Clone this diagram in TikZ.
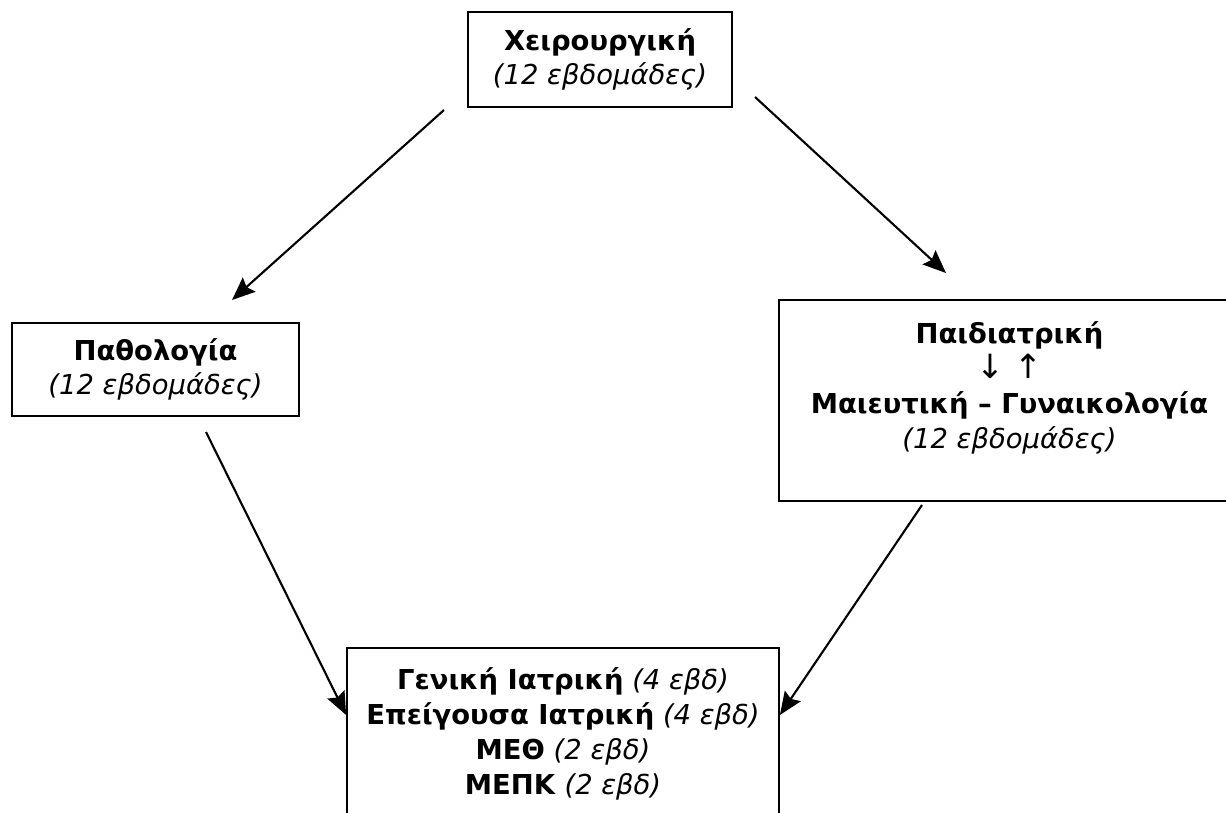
\documentclass[tikz,border=0pt]{standalone}
\usepackage{fontspec}
\setmainfont{DejaVu Sans}
\usepackage{tikz}
\usetikzlibrary{arrows.meta, positioning, calc}

\begin{document}
\begin{tikzpicture}[
  x=1cm, y=1cm,
  blk/.style={draw, line width=1pt, align=center, font=\fontsize{15.6}{19.8}\selectfont, inner sep=1mm},
  arr/.style={-{Stealth[length=0.46cm, width=0.38cm, inset=0.07cm]}, line width=1.2pt}
]
\useasboundingbox (0,0) rectangle (24.52,-16.24);

\node[blk, minimum width=5.28cm, minimum height=1.9cm] (chir) at (12.0,-1.19) {\textbf{Χειρουργική}\\ \textit{(12 εβδομάδες)}};
\node[blk, minimum width=5.74cm, minimum height=1.86cm] (path) at (3.11,-7.39) {\textbf{Παθολογία}\\ \textit{(12 εβδομάδες)}};
\node[blk, minimum width=9.22cm, minimum height=4.02cm, text depth=0.62cm] (paid) at (20.19,-8.01) {\textbf{Παιδιατρική}\\ {\fontsize{19}{19.8}\selectfont ↓ ↑}\\ \textbf{Μαιευτική – Γυναικολογία}\\ \textit{(12 εβδομάδες)}};
\node[blk, minimum width=8.64cm, minimum height=3.44cm] (gen) at (11.26,-14.68) {\textbf{Γενική Ιατρική} \textit{(4 εβδ)}\\ \textbf{Επείγουσα Ιατρική} \textit{(4 εβδ)}\\ \textbf{ΜΕΘ} \textit{(2 εβδ)}\\ \textbf{ΜΕΠΚ} \textit{(2 εβδ)}};

% free ends of the connectors
\coordinate (c1) at (8.88,-2.20);
\coordinate (c2) at (4.64,-6.00);
\coordinate (c3) at (15.10,-1.94);
\coordinate (c4) at (18.92,-5.46);
\coordinate (c5) at (4.12,-8.64);
\coordinate (c6) at (18.44,-10.10);

\draw[arr] (c1) -- (c2);
\draw[arr] (c3) -- (c4);
\draw[arr] (c5) -- (gen.west |- 0,-14.30);
\draw[arr] (c6) -- (gen.east |- 0,-14.30);
\end{tikzpicture}
\end{document}
